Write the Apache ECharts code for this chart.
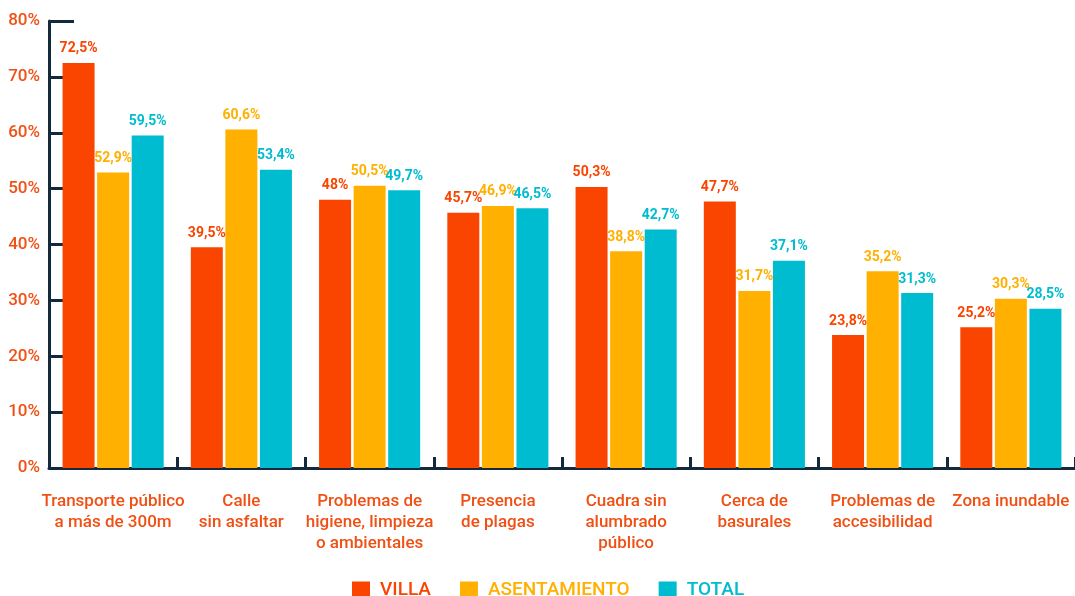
<!doctype html>
<html lang="es">
    <head>
        <meta charset="UTF-8" />
        <title>Problemas del entorno</title>
        <script src="https://cdn.jsdelivr.net/npm/echarts@6.0.0/dist/echarts.min.js"></script>
        <style>
            body { margin: 0; background: #fff; }
        </style>
    </head>
    <body>
        <div id="main" style="width: 1075px; height: 596px"></div>

        <script>
            // Data
            const categories = [
                "Transporte público\na más de 300m",
                "Calle\nsin asfaltar",
                "Problemas de\nhigiene, limpieza\no ambientales",
                "Presencia\nde plagas",
                "Cuadra sin\nalumbrado\npúblico",
                "Cerca de\nbasurales",
                "Problemas de\naccesibilidad",
                "Zona inundable",
            ];
            const villa = [72.5, 39.5, 48, 45.7, 50.3, 47.7, 23.8, 25.2];
            const asentamiento = [52.9, 60.6, 50.5, 46.9, 38.8, 31.7, 35.2, 30.3];
            const total = [59.5, 53.4, 49.7, 46.5, 42.7, 37.1, 31.3, 28.5];

            const FONT = "Roboto";
            const AXIS = "#14293b";

            const fmt = (p) => String(p.value).replace(".", ",") + "%";

            function barSeries(name, data, color) {
                return {
                    name: name,
                    type: "bar",
                    data: data,
                    barWidth: 32,
                    barGap: "8%",
                    itemStyle: { color: color },
                    label: {
                        show: true,
                        position: "top",
                        distance: 7,
                        formatter: fmt,
                        color: color,
                        fontFamily: FONT,
                        fontWeight: "bold",
                        fontSize: 14,
                    },
                };
            }

            const myChart = echarts.init(document.getElementById("main"));

            const options = {
                animation: false,
                textStyle: { fontFamily: FONT },
                grid: { left: 49, top: 21, width: 1035, bottom: 128, containLabel: false },
                legend: {
                    top: 576,
                    left: 347,
                    itemWidth: 18,
                    itemHeight: 18,
                    itemGap: 29,
                    icon: "rect",
                    textStyle: {
                        fontFamily: FONT,
                        fontSize: 19,
                        fontWeight: 500,
                        padding: [0, 0, 0, 5],
                    },
                    data: [
                        { name: "VILLA", textStyle: { color: "#f94500" } },
                        { name: "ASENTAMIENTO", textStyle: { color: "#ffb000" } },
                        { name: "TOTAL", textStyle: { color: "#00bcd0" } },
                    ],
                },
                xAxis: {
                    type: "category",
                    data: categories,
                    axisLine: { lineStyle: { color: AXIS, width: 3 } },
                    axisTick: {
                        show: true,
                        inside: true,
                        length: 11,
                        lineStyle: { color: AXIS, width: 3 },
                    },
                    axisLabel: {
                        margin: 23,
                        color: "#f05014",
                        fontFamily: FONT,
                        fontWeight: 500,
                        fontSize: 17,
                        lineHeight: 21,
                        interval: 0,
                    },
                },
                yAxis: {
                    type: "value",
                    min: 0,
                    max: 80,
                    interval: 10,
                    splitLine: { show: false },
                    axisLine: { show: true, lineStyle: { color: AXIS, width: 3 } },
                    axisTick: {
                        show: true,
                        inside: true,
                        length: 25,
                        lineStyle: { color: AXIS, width: 3 },
                    },
                    axisLabel: {
                        formatter: "{value}%",
                        margin: 9,
                        color: "#f05014",
                        fontFamily: FONT,
                        fontWeight: 500,
                        fontSize: 17,
                    },
                },
                series: [
                    barSeries("VILLA", villa, "#f94500"),
                    barSeries("ASENTAMIENTO", asentamiento, "#ffb000"),
                    barSeries("TOTAL", total, "#00bcd0"),
                ],
            };

            myChart.setOption(options);
        </script>
    </body>
</html>
